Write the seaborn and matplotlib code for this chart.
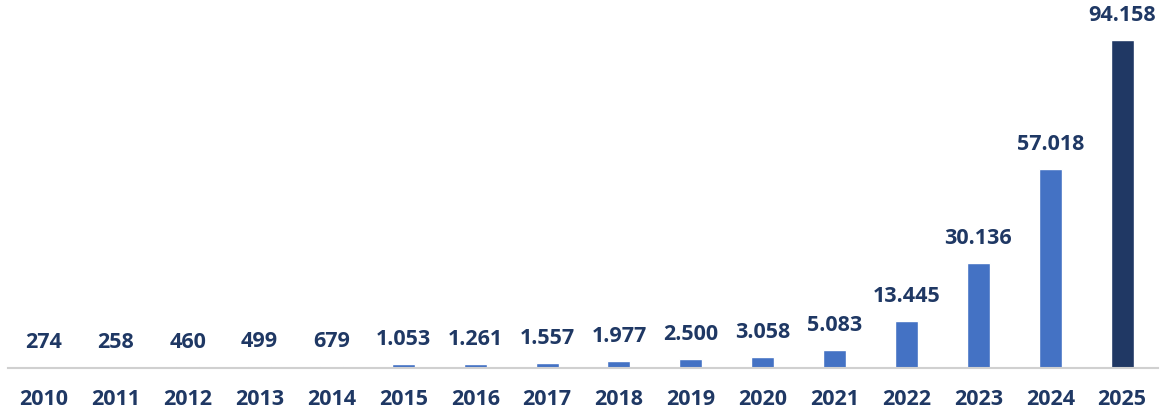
import matplotlib.pyplot as plt
import seaborn as sns
import pandas as pd

years = ['2010', '2011', '2012', '2013', '2014', '2015', '2016', '2017',
         '2018', '2019', '2020', '2021', '2022', '2023', '2024', '2025']
values = [274, 258, 460, 499, 679, 1053, 1261, 1557,
          1977, 2500, 3058, 5083, 13445, 30136, 57018, 94158]

df = pd.DataFrame({'year': years, 'value': values})
colors = ['#4472C4'] * (len(years) - 1) + ['#203864']
text_color = '#1F3864'

sns.set_style('white')
plt.rcParams['font.family'] = ['Open Sans', 'DejaVu Sans']

fig = plt.figure(figsize=(11.66, 4.16), dpi=100)
ax = fig.add_axes([0.0069, 0.1154, 0.9863, 0.8846])
sns.barplot(data=df, x='year', y='value', hue='year', palette=colors,
            legend=False, width=0.32, ax=ax, saturation=1)

for cont in ax.containers:
    labels = [f'{int(round(v)):,}'.replace(',', '.') for v in cont.datavalues]
    ax.bar_label(cont, labels=labels, padding=10, fontsize=15.5,
                 fontweight='bold', color=text_color)

ax.set_xlim(-0.5, 15.5)
ax.set_ylim(0, 105640)
ax.set_xlabel('')
ax.set_ylabel('')
ax.set_yticks([])
sns.despine(ax=ax, left=True, top=True, right=True)
ax.spines['bottom'].set_color('#D0D0D0')
ax.spines['bottom'].set_linewidth(1.5)
ax.tick_params(axis='x', length=0, pad=15, labelsize=15.5, labelcolor=text_color)
for t in ax.get_xticklabels():
    t.set_fontweight('bold')

fig.savefig('out.png', dpi=100)
